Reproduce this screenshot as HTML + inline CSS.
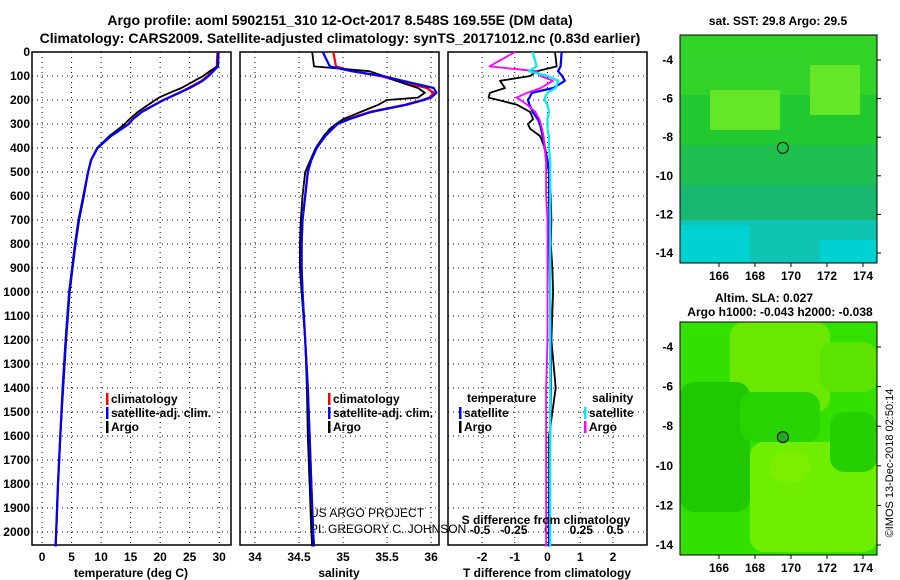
<!DOCTYPE html>
<html><head><meta charset="utf-8"><style>
html,body{margin:0;padding:0;background:#fff;}
svg{display:block;font-family:"Liberation Sans",sans-serif;}
.b{font-weight:bold;font-size:12px;}
</style></head><body>
<svg id="c" width="900" height="580" viewBox="0 0 900 580">
<text x="340" y="25" text-anchor="middle" font-size="14" font-weight="bold">Argo profile: aoml 5902151_310 12-Oct-2017 8.548S 169.55E (DM data)</text>
<text x="340" y="43" text-anchor="middle" font-size="14" font-weight="bold">Climatology: CARS2009. Satellite-adjusted climatology: synTS_20171012.nc (0.83d earlier)</text>
<g id="maps"></g>
<g id="plots"></g>
</svg>
<script>
const depths=[0,60,80,100,120,150,170,190,200,220,250,280,300,320,350,400,450,500,600,700,800,900,1000,1200,1400,1600,1800,2000,2060];
const tempClim=[29.7,29.6,28.8,28.0,27.0,24.8,23.2,21.4,20.5,19.0,16.8,15.3,14.6,13.4,11.6,9.4,8.3,7.8,7.0,6.2,5.6,5.1,4.6,4.0,3.5,3.1,2.7,2.4,2.3];
const tempSat=[29.9,29.8,29.0,28.2,27.2,25.0,23.3,21.5,20.6,19.1,16.9,15.4,14.7,13.5,11.7,9.4,8.3,7.8,7.0,6.2,5.6,5.1,4.6,4.0,3.5,3.1,2.7,2.4,2.3];
const tempArgo=[29.8,29.7,28.4,27.3,25.8,23.6,21.6,19.8,19.2,18.0,16.2,14.8,14.0,13.0,11.4,9.3,8.3,7.8,7.1,6.3,5.7,5.2,4.7,4.1,3.6,3.1,2.7,2.4,2.3];
const salClim=[34.89,34.92,35.1,35.42,35.62,35.95,36.03,35.98,35.9,35.7,35.3,35.05,34.93,34.87,34.8,34.7,34.64,34.6,34.57,34.54,34.53,34.53,34.54,34.57,34.6,34.62,34.64,34.66,34.67];
const salSat=[34.77,34.85,35.1,35.45,35.68,36.03,36.06,36.0,35.92,35.72,35.32,35.07,34.94,34.88,34.8,34.7,34.64,34.6,34.57,34.54,34.53,34.53,34.54,34.57,34.6,34.62,34.64,34.66,34.67];
const salArgo=[34.65,34.67,35.3,35.46,35.6,35.85,35.93,35.85,35.5,35.4,35.2,35.0,34.92,34.85,34.78,34.69,34.63,34.57,34.54,34.52,34.51,34.51,34.53,34.57,34.59,34.6,34.62,34.64,34.65];
const dTsat=[0.43,0.4,0.32,0.45,0.53,0.18,-0.48,-0.55,-0.6,-0.55,-0.45,-0.3,-0.23,-0.2,-0.15,-0.08,0.0,0.05,0.05,0.06,0.06,0.07,0.08,0.1,0.1,0.08,0.06,0.05,0.05];
const dTargo=[0.23,0.28,-0.33,-0.53,-1.45,-1.3,-1.76,-1.8,-1.5,-0.93,-0.53,-0.44,-0.6,-0.53,-0.23,-0.08,-0.05,0.05,0.1,0.12,0.1,0.15,0.17,0.12,0.25,0.05,0.05,0.05,0.05];
const dSsat=[-0.11,-0.08,-0.14,0,0.08,0.06,0,-0.02,-0.02,0,0.01,0,0,0,0.01,0.01,0.02,0.02,0.02,0.02,0.02,0.02,0.02,0.02,0.02,0.02,0.02,0.02,0.02];
const dSargo=[-0.24,-0.43,-0.08,-0.05,0.04,-0.05,-0.15,-0.23,-0.2,-0.15,-0.09,-0.06,-0.05,-0.04,-0.03,-0.02,-0.01,-0.01,-0.01,0,0,0,0,0,-0.01,-0.01,-0.01,-0.01,-0.01];
const depthTicks=[0,100,200,300,400,500,600,700,800,900,1000,1100,1200,1300,1400,1500,1600,1700,1800,1900,2000];
const tempTicks=[0,5,10,15,20,25,30];
const salTicks=[34,34.5,35,35.5,36];
const dTTicks=[-2,-1,0,1,2];
const dSTickLabels=["-0.5","-0.25","0","0.25","0.5"];
const dSTicks=[-0.5,-0.25,0,0.25,0.5];
const lonTicks=[166,168,170,172,174];
const latTicks=[-4,-6,-8,-10,-12,-14];

const NS="http://www.w3.org/2000/svg";
const root=document.getElementById('plots');
function mk(tag,attrs,parent,text){const e=document.createElementNS(NS,tag);for(const k in attrs)e.setAttribute(k,attrs[k]);if(text!==undefined)e.textContent=text;(parent||root).appendChild(e);return e;}
const TOP=52,BOT=545;
const yD=d=>TOP+d*0.24;

function panel(x0,x1,vmin,vmax,name){
  const xs=v=>x0+(v-vmin)/(vmax-vmin)*(x1-x0);
  const g=mk('g',{});
  
  
  const r=mk('rect',{x:x0,y:TOP,width:x1-x0,height:BOT-TOP,fill:'#fff',stroke:'#000','stroke-width':1.5},g);
  
  
  depthTicks.forEach(d=>{const l=mk('line',{x1:x0,x2:x1,y1:yD(d),y2:yD(d),stroke:'#000','stroke-width':1,'stroke-dasharray':'1,4'},g);
    
    });
  return {g,xs};
}
function line(g,xs,vals,color,name,w){
  const pts=vals.map((v,i)=>xs(v).toFixed(1)+','+yD(depths[i]).toFixed(1)).join(' ');
  const p=mk('polyline',{points:pts,fill:'none',stroke:color,'stroke-width':w||2.2,'stroke-linejoin':'round'},g);
  
  
}
function xTicks(g,xs,ticks,labels,y,name,grid){
  ticks.forEach((t,i)=>{
    const x=xs(t);
    if(grid){const l=mk('line',{x1:x,x2:x,y1:TOP,y2:BOT,stroke:'#000','stroke-width':1,'stroke-dasharray':'1,4'},g);
      
      }
    const t2=mk('text',{x:x,y:y,'text-anchor':'middle',class:'b'},g,labels?labels[i]:String(t));
    
    
  });
}
function legend(g,x,y,items){
  items.forEach((it,i)=>{
    const yy=y+i*14;
    const m=mk('rect',{x:x,y:yy-9,width:2.5,height:12,fill:it[1]},g);
    
    
    const t=mk('text',{x:x+5,y:yy+1,class:'b'},g,it[0]);
    
    
  });
}
depthTicks.forEach(d=>{const t=mk('text',{x:30,y:yD(d)+4,'text-anchor':'end',class:'b'},root,String(d));
  
  });

const p1=panel(32,231,-1.7,32,'temperature-panel');
xTicks(p1.g,p1.xs,tempTicks,null,561,'temperature-tick-label',true);
line(p1.g,p1.xs,tempClim,'#f00','temperature-climatology-line');
line(p1.g,p1.xs,tempArgo,'#000','temperature-argo-line',1.8);
line(p1.g,p1.xs,tempSat,'#00f','temperature-satellite-line');
legend(p1.g,106,402,[['climatology','#f00'],['satellite-adj. clim.','#00f'],['Argo','#000']]);
let t=mk('text',{x:131,y:577,'text-anchor':'middle',class:'b'},p1.g,'temperature (deg C)');



const p2=panel(240,439,33.83,36.09,'salinity-panel');
xTicks(p2.g,p2.xs,salTicks,["34","34.5","35","35.5","36"],561,'salinity-tick-label',true);
line(p2.g,p2.xs,salClim,'#f00','salinity-climatology-line');
line(p2.g,p2.xs,salArgo,'#000','salinity-argo-line',1.8);
line(p2.g,p2.xs,salSat,'#00f','salinity-satellite-line');
legend(p2.g,328,402,[['climatology','#f00'],['satellite-adj. clim.','#00f'],['Argo','#000']]);
t=mk('text',{x:339,y:577,'text-anchor':'middle',class:'b'},p2.g,'salinity');



const p3=panel(448,647,-3.04,3.04,'difference-panel');
const xsS=v=>547.5+v*135;
xTicks(p3.g,p3.xs,dTTicks,null,561,'t-difference-tick-label',true);
xTicks(p3.g,xsS,dSTicks,dSTickLabels,534,'s-difference-tick-label',false);
line(p3.g,p3.xs,dTargo,'#000','t-diff-argo-line',1.8);
line(p3.g,p3.xs,dTsat,'#00f','t-diff-satellite-line');
line(p3.g,xsS,dSargo,'#f0f','s-diff-argo-line',1.8);
line(p3.g,xsS,dSsat,'#0ee','s-diff-satellite-line');
t=mk('text',{x:467,y:402,class:'b'},p3.g,'temperature');


t=mk('text',{x:592,y:402,class:'b'},p3.g,'salinity');


legend(p3.g,459,416,[['satellite','#00f'],['Argo','#000']]);
legend(p3.g,584,416,[['satellite','#0ee'],['Argo','#f0f']]);
t=mk('text',{x:546,y:524,'text-anchor':'middle',class:'b'},p3.g,'S difference from climatology');


t=mk('text',{x:547,y:577,'text-anchor':'middle',class:'b'},p3.g,'T difference from climatology');



t=mk('text',{x:310,y:517,'font-size':12},root,'US ARGO PROJECT');


t=mk('text',{x:310,y:533,'font-size':12},root,'PI: GREGORY C. JOHNSON');



const mg=document.getElementById('maps');
function map(y0,y1,name,sst){
  const x0=680,x1=877;
  const lx=l=>719+(l-166)*18;
  const ly=a=>y0+25+(-4-a)*(y1-y0-35)/10;
  const g=mk('g',{},mg);
  
  
  const base=mk('rect',{x:x0,y:y0,width:x1-x0,height:y1-y0,fill:sst?'#22c830':'#34e000'},g);
  
  
  const blobs=sst?[
    [x0,y0,x1-x0,60,'#33d228'],[x0+30,y0+55,70,40,'#66e628'],[x0+130,y0+30,50,50,'#66e628'],[x0,y0+110,x1-x0,50,'#20c050'],
    [x0,y0+150,x1-x0,45,'#18b870'],[x0,y0+185,x1-x0,43,'#10c4b4'],[x0,y0+190,70,38,'#00d2d2'],[x0+140,y0+205,57,23,'#00d2d2']
  ]:[
    [x0+50,y0,100,90,'#6ae800'],[x0+140,y0+20,57,50,'#5ce400'],[x0,y0+60,70,130,'#20c800'],[x0+60,y0+70,80,50,'#28d400'],
    [x0+70,y0+120,127,110,'#70ee00'],[x0+150,y0+90,47,60,'#26d000'],[x0+90,y0+130,40,30,'#7af000']
  ];
  blobs.forEach(b=>{const r=mk('rect',{x:b[0],y:b[1],width:b[2],height:b[3],fill:b[4],rx:sst?2:14},g);
    
    });
  const fr=mk('rect',{x:x0,y:y0,width:x1-x0,height:y1-y0,fill:'none',stroke:'#000','stroke-width':1},g);
  
  
  const c=mk('circle',{cx:lx(169.55),cy:ly(-8.55),r:5.5,fill:sst?'none':'#22a822',stroke:'#000','stroke-width':1},g);
  
  
  lonTicks.forEach(l=>{const tk=mk('line',{x1:lx(l),x2:lx(l),y1:y1,y2:y1+4,stroke:'#000'},g);
    
    
    const tl=mk('text',{x:lx(l),y:y1+17,'text-anchor':'middle',class:'b'},g,String(l));
    
    });
  latTicks.forEach(a=>{const tk=mk('line',{x1:x1,x2:x1+4,y1:ly(a),y2:ly(a),stroke:'#000'},g);
    
    
    const tl=mk('text',{x:673,y:ly(a)+4,'text-anchor':'end',class:'b'},g,String(a));
    
    });
}
map(35,263,'sst-map',true);
map(322,555,'sla-map',false);
t=mk('text',{x:778,y:25,'text-anchor':'middle',class:'b'},mg,'sat. SST: 29.8 Argo: 29.5');


t=mk('text',{x:764,y:302,'text-anchor':'middle',class:'b'},mg,'Altim. SLA: 0.027');


t=mk('text',{x:780,y:316,'text-anchor':'middle',class:'b'},mg,'Argo h1000: -0.043 h2000: -0.038');


t=mk('text',{x:893,y:463,'text-anchor':'middle','font-size':11,transform:'rotate(-90 893 463)'},mg,'©IMOS 13-Dec-2018 02:50:14');


</script>
</body></html>
